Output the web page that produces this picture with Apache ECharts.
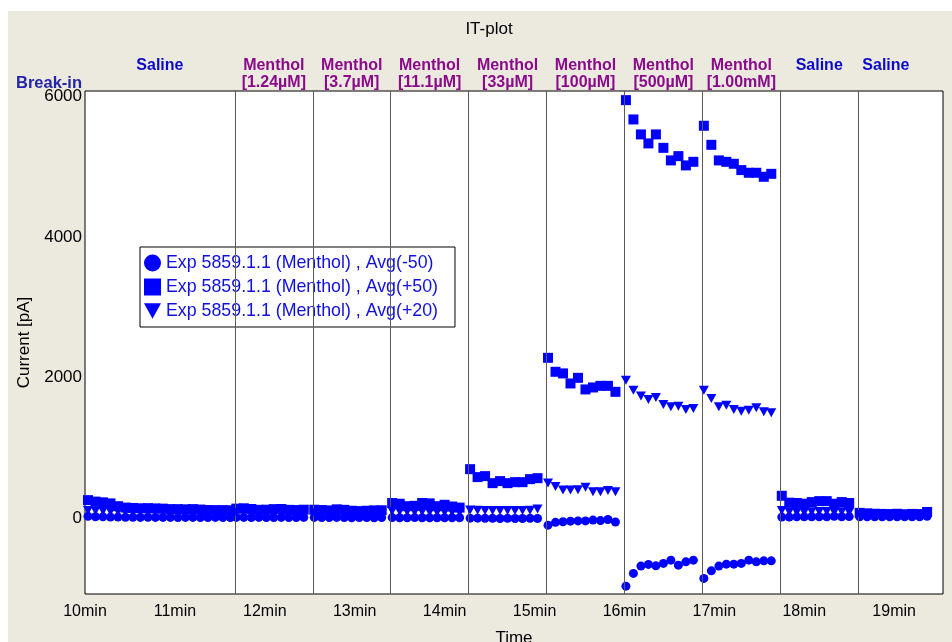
<!DOCTYPE html>
<html>
<head>
<meta charset="utf-8">
<script src="https://cdn.jsdelivr.net/npm/echarts@6/dist/echarts.min.js"></script>
<style>
  html, body { margin: 0; padding: 0; background: #ffffff; width: 952px; height: 642px; overflow: hidden; }
  #c { position: absolute; left: 8px; top: 11px; width: 944px; height: 631px; }
</style>
</head>
<body>
<div id="c"></div>
<script>
// Sample times in seconds (5 s sampling, one block per application)
const sampleTimes = [
  602, 607, 612, 617, 622, 627, 632, 637, 642, 647, 652, 657, 662, 667, 672, 677, 682, 687, 692, 697,
  701, 706, 711, 716, 721, 726, 731, 736, 741, 746,
  753, 758, 763, 768, 773, 778, 783, 788, 793, 798,
  805, 810, 815, 820, 825, 830, 835, 840, 845, 850,
  857, 862, 867, 872, 877, 882, 887, 892, 897, 902,
  909, 914, 919, 924, 929, 934, 939, 944, 949, 954,
  961, 966, 971, 976, 981, 986, 991, 996, 1001, 1006,
  1013, 1018, 1023, 1028, 1033, 1038, 1043, 1048, 1053, 1058,
  1065, 1070, 1075, 1080, 1085, 1090, 1095, 1100, 1105, 1110,
  1117, 1122, 1127, 1132, 1137, 1142, 1147, 1152, 1157, 1162
];

// Current at -50 mV average (pA)
const avgMinus50 = [
  25, 20, 18, 15, 15, 12, 12, 10, 12, 10, 10, 10, 8, 10, 10, 8, 8, 10, 8, 8,
  10, 10, 8, 10, 8, 8, 10, 8, 8, 10,
  10, 8, 8, 10, 8, 5, 8, 8, 5, 8,
  8, 5, 5, 8, 5, 5, 5, 5, 5, 5,
  0, 0, -3, -3, -5, -3, -5, -5, -3, -5,
  -100, -60, -52, -43, -40, -40, -28, -35, -20, -55,
  -968, -787, -683, -659, -679, -645, -598, -669, -622, -598,
  -858, -750, -683, -655, -655, -645, -598, -622, -608, -608,
  15, 15, 18, 18, 20, 20, 18, 25, 20, 22,
  20, 18, 18, 20, 18, 18, 20, 18, 20, 25
];

// Current at +50 mV average (pA)
const avgPlus50 = [
  256, 235, 225, 210, 170, 150, 145, 140, 142, 138, 135, 128, 128, 125, 128, 122, 115, 114, 114, 112,
  135, 140, 130, 118, 120, 128, 130, 118, 115, 120,
  120, 115, 110, 125, 118, 105, 100, 105, 110, 112,
  215, 205, 170, 175, 215, 210, 170, 190, 165, 150,
  697, 584, 598, 498, 527, 498, 512, 512, 555, 569,
  2282, 2083, 2060, 1917, 1997, 1832, 1860, 1883, 1883, 1798,
  5950, 5675, 5462, 5334, 5462, 5271, 5092, 5153, 5021, 5072,
  5585, 5314, 5092, 5072, 5044, 4954, 4916, 4916, 4859, 4901,
  318, 220, 215, 205, 228, 242, 242, 205, 228, 215,
  75, 68, 62, 60, 58, 62, 55, 60, 58, 88
];

// Current at +20 mV average (pA)
const avgPlus20 = [
  110, 105, 100, 95, 95, 90, 90, 88, 88, 85, 85, 85, 82, 82, 80, 80, 80, 78, 78, 78,
  80, 78, 78, 75, 75, 75, 75, 72, 72, 72,
  72, 70, 70, 70, 68, 68, 68, 65, 65, 65,
  100, 95, 90, 88, 90, 88, 85, 85, 82, 80,
  115, 112, 110, 110, 110, 110, 108, 110, 112, 130,
  500, 450, 400, 400, 405, 440, 375, 375, 395, 375,
  1964, 1822, 1737, 1690, 1718, 1618, 1585, 1594, 1547, 1561,
  1822, 1704, 1585, 1608, 1547, 1523, 1537, 1570, 1513, 1499,
  110, 90, 85, 85, 90, 95, 95, 85, 90, 85,
  50, 45, 42, 40, 40, 42, 40, 42, 40, 60
];

// Solution applications (seconds)
const stimulusNames = [
  'Saline',
  'Menthol\n[1.24µM]', 'Menthol\n[3.7µM]', 'Menthol\n[11.1µM]', 'Menthol\n[33µM]',
  'Menthol\n[100µM]', 'Menthol\n[500µM]', 'Menthol\n[1.00mM]',
  'Saline', 'Saline'
];
const stimulusStart = [600, 700, 752, 804, 856, 908, 960, 1012, 1064, 1116];
const stimulusEnd   = [700, 752, 804, 856, 908, 960, 1012, 1064, 1116, 1153];
const breakInTime = 600;

const seriesNames = [
  'Exp 5859.1.1 (Menthol) , Avg(-50)',
  'Exp 5859.1.1 (Menthol) , Avg(+50)',
  'Exp 5859.1.1 (Menthol) , Avg(+20)'
];

const xTickSec = [600, 660, 720, 780, 840, 900, 960, 1020, 1080, 1140];
const yTicks = [0, 2000, 4000, 6000];

const FONT = 'Liberation Sans, Arial, sans-serif';
const BLUE = '#0000ff';
const SALINE_COLOR = '#0a0ac8';
const MENTHOL_COLOR = '#8a0a8a';
const TRI_DOWN = 'path://M0,0L10,0L5,9Z';

function pairs(values) {
  return sampleTimes.map((t, i) => [t, values[i]]);
}

const chart = echarts.init(document.getElementById('c'), null, { renderer: 'canvas' });

const areaData = stimulusNames.map((name, i) => {
  const isSaline = name.indexOf('Saline') === 0;
  return [
    {
      xAxis: stimulusStart[i],
      name: name,
      label: {
        color: isSaline ? SALINE_COLOR : MENTHOL_COLOR,
        padding: isSaline ? [0, 0, 17, 0] : 0
      }
    },
    { xAxis: stimulusEnd[i] }
  ];
});

chart.setOption({
  backgroundColor: '#ECE9DF',
  animation: false,
  textStyle: { fontFamily: FONT },
  title: {
    text: 'IT-plot',
    left: 476,
    textAlign: 'center',
    top: 5,
    textStyle: { fontFamily: FONT, fontSize: 17, fontWeight: 'normal', color: '#000' }
  },
  grid: {
    left: 77, right: 9, top: 80, bottom: 48,
    outerBoundsMode: 'none',
    containLabel: false,
    show: true,
    backgroundColor: '#ffffff',
    borderColor: '#000000',
    borderWidth: 1
  },
  legend: {
    orient: 'vertical',
    left: 132,
    top: 236,
    backgroundColor: '#ffffff',
    borderColor: '#000000',
    borderWidth: 1,
    padding: [7, 17, 7, 4],
    itemWidth: 17,
    itemHeight: 17,
    itemGap: 6,
    itemTextGap: 16,
    textStyle: { fontFamily: FONT, fontSize: 17.8, color: '#1010e0' },
    data: [
      { name: seriesNames[0], icon: 'circle' },
      { name: seriesNames[1], icon: 'rect' },
      { name: seriesNames[2], icon: 'path://M0,0L12,0L6,11Z' }
    ]
  },
  xAxis: {
    type: 'value',
    min: 600,
    max: 1172.6,
    name: 'Time',
    nameLocation: 'middle',
    nameGap: 36,
    nameTextStyle: { fontFamily: FONT, fontSize: 17, color: '#000' },
    axisLine: { show: false },
    axisTick: { show: false },
    splitLine: { show: false },
    axisLabel: {
      customValues: xTickSec,
      formatter: v => (v / 60) + 'min',
      fontFamily: FONT,
      fontSize: 16,
      color: '#000',
      margin: 10
    }
  },
  yAxis: {
    type: 'value',
    min: -1080,
    max: 6080,
    name: 'Current [pA]',
    nameLocation: 'middle',
    nameGap: 41,
    nameTextStyle: { fontFamily: FONT, fontSize: 17, color: '#000' },
    axisLine: { show: false },
    axisTick: { show: false },
    splitLine: { show: false },
    axisLabel: {
      customValues: yTicks,
      formatter: v => String(v),
      fontFamily: FONT,
      fontSize: 17,
      color: '#000',
      margin: 3
    }
  },
  series: [
    {
      name: seriesNames[0],
      type: 'scatter',
      symbol: 'circle',
      symbolSize: 9,
      itemStyle: { color: BLUE, opacity: 1 },
      data: pairs(avgMinus50),
      z: 3,
      markLine: {
        silent: true,
        symbol: ['none', 'none'],
        label: { show: false },
        lineStyle: { color: '#5a5a5a', width: 1, type: 'solid' },
        data: stimulusStart.slice(1).map(t => ({ xAxis: t }))
      },
      markArea: {
        silent: true,
        itemStyle: { color: 'rgba(0,0,0,0)' },
        label: {
          show: true,
          position: 'top',
          distance: 0,
          fontFamily: FONT,
          fontSize: 16,
          fontWeight: 'bold',
          lineHeight: 17,
          align: 'center'
        },
        data: areaData
      }
    },
    {
      name: seriesNames[1],
      type: 'scatter',
      symbol: 'rect',
      symbolSize: 10,
      itemStyle: { color: BLUE, opacity: 1 },
      data: pairs(avgPlus50),
      z: 4
    },
    {
      name: seriesNames[2],
      type: 'scatter',
      symbol: TRI_DOWN,
      symbolSize: [10, 9],
      itemStyle: { color: BLUE, opacity: 1 },
      data: pairs(avgPlus20),
      z: 5
    }
  ]
});

// "Break-in" marker text, anchored just left of the break-in time
const breakX = chart.convertToPixel({ xAxisIndex: 0 }, breakInTime);
const topY = chart.convertToPixel({ yAxisIndex: 0 }, 6080);
chart.setOption({
  graphic: [{
    type: 'text',
    x: breakX - 3,
    y: topY - 8,
    style: {
      text: 'Break-in',
      fontFamily: FONT,
      fontSize: 16.5,
      fontWeight: 'bold',
      fill: '#2424a8',
      align: 'right',
      verticalAlign: 'middle'
    },
    z: 10
  }]
});
</script>
</body>
</html>
